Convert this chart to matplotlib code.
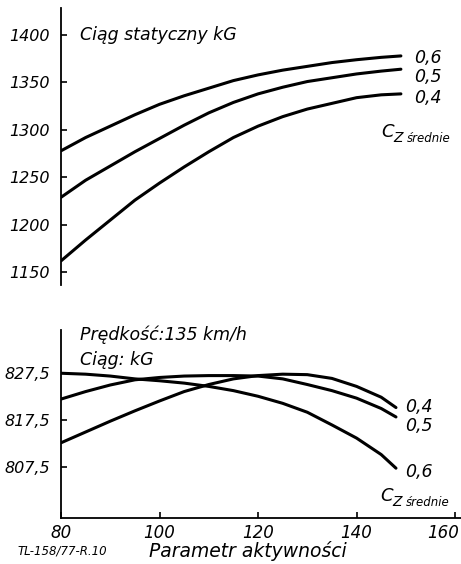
import matplotlib
matplotlib.use("Agg")
import matplotlib.pyplot as plt
import matplotlib.transforms as mtransforms

# ---- data ----
x_top = [80, 85, 90, 95, 100, 105, 110, 115, 120, 125, 130, 135, 140, 145, 149]
top_06 = [1278, 1292, 1304, 1316, 1327, 1336, 1344, 1352, 1358, 1363, 1367, 1371, 1374, 1376.5, 1378]
top_05 = [1229, 1247, 1262, 1277, 1291, 1305, 1318, 1329, 1338, 1345, 1351, 1355, 1359, 1362, 1364]
top_04 = [1162, 1184, 1205, 1226, 1244, 1261, 1277, 1292, 1304, 1314, 1322, 1328, 1334, 1337, 1338]
top_yticks = [1150, 1200, 1250, 1300, 1350, 1400]

x_bot = [80, 85, 90, 95, 100, 105, 110, 115, 120, 125, 130, 135, 140, 145, 148]
bot_04 = [812.6, 814.9, 817.2, 819.4, 821.5, 823.5, 825.0, 826.2, 826.9, 827.2, 827.1, 826.3, 824.6, 822.3, 820.1]
bot_05 = [821.9, 823.5, 824.9, 826.0, 826.5, 826.8, 826.9, 826.9, 826.8, 826.2, 825.0, 823.7, 822.1, 819.9, 818.1]
bot_06 = [827.4, 827.2, 826.8, 826.2, 825.8, 825.3, 824.6, 823.7, 822.5, 821.0, 819.1, 816.4, 813.6, 810.1, 807.2]
bot_yticks = [807.5, 817.5, 827.5]
bot_yticklabels = ["807,5", "817,5", "827,5"]
xticks = [80, 100, 120, 140, 160]

W, H = 461, 564
fig = plt.figure(figsize=(W / 100, H / 100), dpi=100)
fig.patch.set_facecolor("white")

def fx(px):
    return px / W

def fy(py):
    return 1 - py / H

FS = 11.5
ital = dict(style="italic", family="DejaVu Sans", color="black")

# ---- top panel ----
ax1 = fig.add_axes([fx(61), fy(285), fx(400), (285 - 8) / H])
for y in (top_06, top_05, top_04):
    ax1.plot(x_top, y, color="black", lw=2.2, solid_capstyle="round", solid_joinstyle="round")
ax1.set_xlim(80, 161.2)
ax1.set_ylim(1136.6, 1428.5)
for s in ("top", "right", "bottom"):
    ax1.spines[s].set_visible(False)
ax1.spines["left"].set_linewidth(1.3)
ax1.set_xticks([])
ax1.set_yticks(top_yticks)
ax1.set_yticklabels([str(v) for v in top_yticks])
ax1.tick_params(axis="y", direction="in", length=4, width=1.2, pad=8, labelsize=FS)
for lab in ax1.get_yticklabels():
    lab.set_fontstyle("italic")

# ---- bottom panel ----
ax2 = fig.add_axes([fx(61), fy(518), fx(400), (518 - 330) / H])
for y in (bot_04, bot_05, bot_06):
    ax2.plot(x_bot, y, color="black", lw=2.2, solid_capstyle="round", solid_joinstyle="round")
ax2.set_xlim(80, 161.2)
ax2.set_ylim(796.6, 836.6)
for s in ("top", "right"):
    ax2.spines[s].set_visible(False)
ax2.spines["left"].set_linewidth(1.3)
ax2.spines["bottom"].set_linewidth(1.3)
ax2.set_yticks(bot_yticks)
ax2.set_yticklabels(bot_yticklabels)
ax2.set_xticks(xticks)
ax2.set_xticklabels([str(v) for v in xticks])
ax2.tick_params(axis="y", direction="in", length=4, width=1.2, pad=8, labelsize=FS)
ax2.tick_params(axis="x", direction="in", length=4, width=1.2, pad=4, labelsize=FS + 0.5)
for lab in ax2.get_yticklabels() + ax2.get_xticklabels():
    lab.set_fontstyle("italic")
# keep the last x label inside the figure (as in the reference)
last = ax2.get_xticklabels()[-1]
last.set_transform(last.get_transform() + mtransforms.ScaledTranslation(-12 / 100, 0, fig.dpi_scale_trans))

# ---- annotations ----
fig.text(fx(80), fy(35), "Ciąg statyczny kG", fontsize=12.5, va="center", ha="left", **ital)
fig.text(fx(414), fy(58), "0,6", fontsize=12.5, va="center", ha="left", **ital)
fig.text(fx(414), fy(77), "0,5", fontsize=12.5, va="center", ha="left", **ital)
fig.text(fx(414), fy(98), "0,4", fontsize=12.5, va="center", ha="left", **ital)
fig.text(fx(381), fy(132), "C", fontsize=13, va="center", ha="left", **ital)
fig.text(fx(393), fy(138), "Z", fontsize=10, va="center", ha="left", **ital)
fig.text(fx(407), fy(138), "średnie", fontsize=8.5, va="center", ha="left", **ital)

fig.text(fx(80), fy(335), "Prędkość:135 km/h", fontsize=12.5, va="center", ha="left", **ital)
fig.text(fx(80), fy(360), "Ciąg: kG", fontsize=12.5, va="center", ha="left", **ital)
fig.text(fx(405), fy(407), "0,4", fontsize=12.5, va="center", ha="left", **ital)
fig.text(fx(405), fy(426), "0,5", fontsize=12.5, va="center", ha="left", **ital)
fig.text(fx(405), fy(472), "0,6", fontsize=12.5, va="center", ha="left", **ital)
fig.text(fx(380), fy(496), "C", fontsize=13, va="center", ha="left", **ital)
fig.text(fx(392), fy(502), "Z", fontsize=10, va="center", ha="left", **ital)
fig.text(fx(406), fy(502), "średnie", fontsize=8.5, va="center", ha="left", **ital)

fig.text(fx(248), fy(551), "Parametr aktywności", fontsize=13.5, va="center", ha="center", **ital)
fig.text(fx(62), fy(551), "TL-158/77-R.10", fontsize=8.5, va="center", ha="center", **ital)

fig.savefig("out.png", dpi=100, facecolor="white")
